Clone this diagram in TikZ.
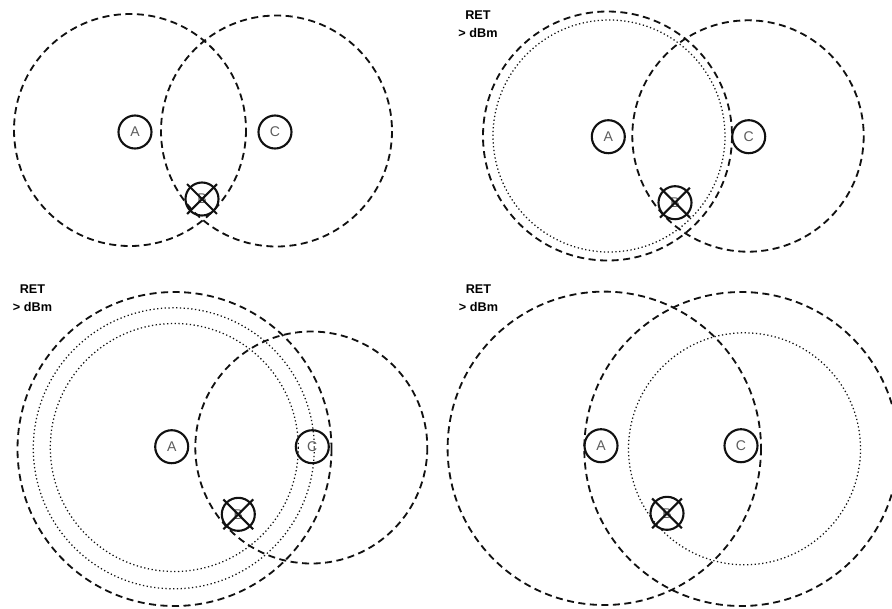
\documentclass[tikz,border=0pt]{standalone}
\usepackage{fontspec}
\setmainfont{Liberation Sans}
\usepackage{xcolor}
\usetikzlibrary{calc}
\definecolor{ringblack}{HTML}{111111}
\definecolor{sitegray}{HTML}{5C5C5C}

\tikzset{
  site/.style={circle,draw=ringblack,line width=1.5pt,minimum size=0.825cm,inner sep=0pt,
    text=sitegray,font=\fontsize{10}{12}\selectfont},
  coverage/.style={draw=ringblack,line width=1.3pt,dash pattern=on 5pt off 3.2pt},
  weakcov/.style={draw=ringblack,line width=0.9pt,dash pattern=on 0.9pt off 1.8pt},
  xmark/.style={draw=ringblack,line width=1.5pt,shorten <=-2.5pt,shorten >=-2.5pt},
  retlabel/.style={font=\fontsize{9}{12.8}\bfseries\selectfont,align=center,inner sep=0pt}
}

\begin{document}
\begin{tikzpicture}[x=0.025cm,y=-0.025cm]
    \useasboundingbox (0,0) rectangle (892,608);
    \clip (0,0) rectangle (892,608);
    % coverage rings
    \draw[coverage] (130,130) circle (116);
    \draw[coverage] (276.5,131) circle (115.5);
    \draw[coverage] (607.5,136) circle (124.5);
    \draw[weakcov] (609,136) circle (116);
    \draw[coverage] (748,136) circle (115.7);
    \draw[coverage] (174.5,449) circle (157);
    \draw[weakcov] (173.8,448.3) circle (140.5);
    \draw[weakcov] (174.3,447.5) circle (124);
    \draw[coverage] (311.3,447.5) circle (116);
    \draw[coverage] (604.3,448.3) circle (156.7);
    \draw[coverage] (741.3,449) circle (157);
    \draw[weakcov] (744.5,448.8) circle (116);
    % sites, B is lost
    \foreach \p/\ax/\ay/\cx/\cy/\bx/\by in {1/135/132/275/132/202/199,
        2/608.3/136.7/748.7/136.7/675/202.7,
        3/171.7/446.7/312.3/446.7/238.3/514.3,
        4/601/445.7/741/445.7/667/513.3}{
        \node[site] (a\p) at (\ax,\ay) {A};
        \node[site] (c\p) at (\cx,\cy) {C};
        \node[site] (b\p) at (\bx,\by) {B};
        \draw[xmark] (b\p.north west) -- (b\p.south east);
        \draw[xmark] (b\p.north east) -- (b\p.south west);
    }
    \node[retlabel] (ret2) at (478,24) {RET\\> dBm};
    \node[retlabel] (ret3) at (32.5,297.7) {RET\\> dBm};
    \node[retlabel] (ret4) at (478.5,297.7) {RET\\> dBm};
\end{tikzpicture}
\end{document}
